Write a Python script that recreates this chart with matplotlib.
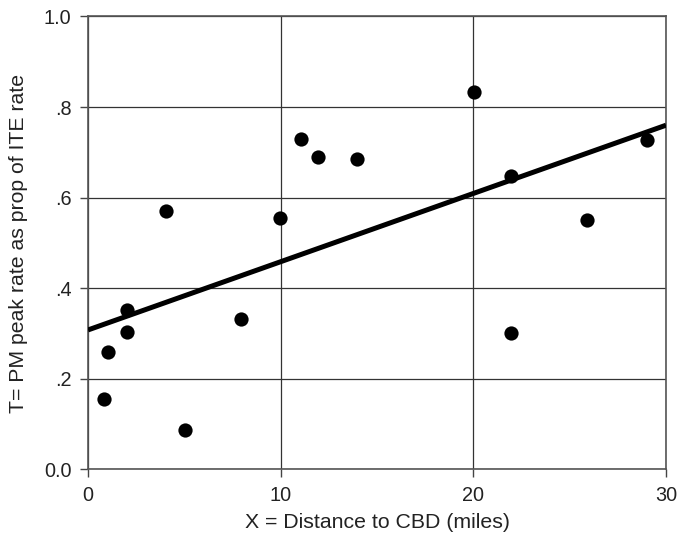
import matplotlib
matplotlib.use("Agg")
import matplotlib.pyplot as plt
import numpy as np

plt.rcParams['font.family'] = ['Liberation Sans', 'DejaVu Sans']

distance = [0.85, 1.05, 2.0, 2.0, 4.05, 5.05, 7.94, 9.96, 11.05, 11.94, 13.96, 20.03, 21.95, 21.95, 25.9, 29.0]
pm_prop = [0.156, 0.259, 0.351, 0.303, 0.571, 0.087, 0.333, 0.555, 0.730, 0.690, 0.686, 0.833, 0.648, 0.302, 0.550, 0.727]

fit_intercept = 0.308
fit_slope = (0.760 - 0.308) / 30

x_ticks = [0, 10, 20, 30]
x_ticklabels = ["0", "10", "20", "30"]
y_ticks = [0.0, 0.2, 0.4, 0.6, 0.8, 1.0]
y_ticklabels = ["0.0", ".2", ".4", ".6", ".8", "1.0"]

fig = plt.figure(figsize=(6.77, 5.42), dpi=100)
ax = fig.add_axes([0.130, 0.1338, 0.8538, 0.8358])

ax.set_xlim(0, 30)
ax.set_ylim(0, 1.0)
ax.set_axisbelow(True)
ax.grid(True, color='#333333', linewidth=0.9)

ax.scatter(distance, pm_prop, s=105, color='black', zorder=3, linewidths=0)
xl = np.array([0, 30])
ax.plot(xl, fit_intercept + fit_slope * xl, color='black', linewidth=3.6, zorder=4, solid_capstyle='butt')

ax.set_xticks(x_ticks)
ax.set_xticklabels(x_ticklabels)
ax.set_yticks(y_ticks)
ax.set_yticklabels(y_ticklabels)
ax.tick_params(direction='out', length=6, width=1, color='#444444', labelsize=14.3, labelcolor='#222222', pad=6)
for s in ax.spines.values():
    s.set_color('#555555')
    s.set_linewidth(1.2)

ax.set_xlabel("X = Distance to CBD (miles)", fontsize=15.3, color='#222222', labelpad=6)
ax.set_ylabel("T= PM peak rate as prop of ITE rate", fontsize=15.3, color='#222222', labelpad=11)

fig.savefig("out.png", dpi=100)
